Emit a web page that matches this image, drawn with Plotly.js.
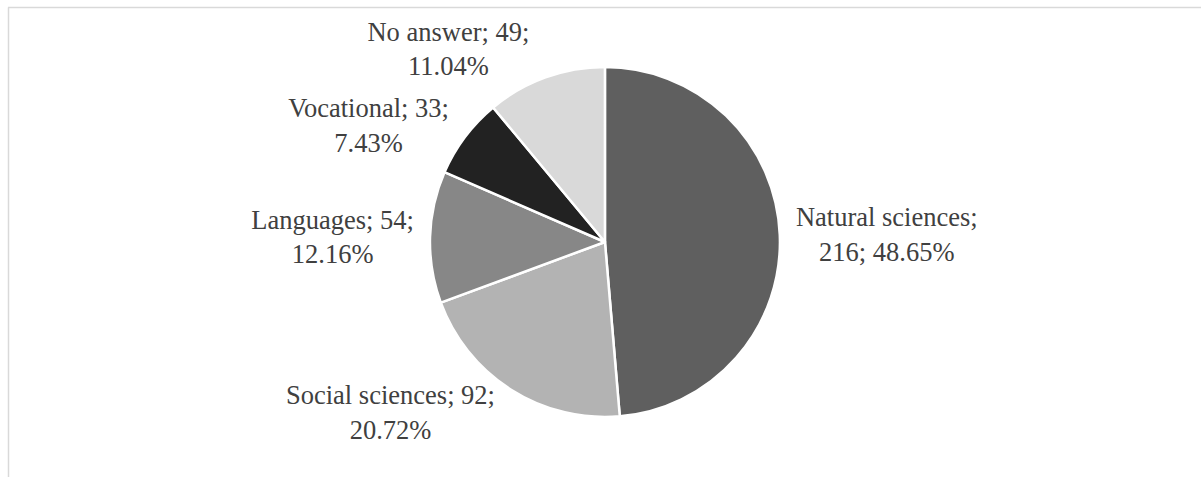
<!DOCTYPE html>
<html>
<head>
<meta charset="utf-8">
<script src="https://cdn.plot.ly/plotly-3.0.1.min.js"></script>
<style>html,body{margin:0;padding:0;background:#fff;}#chart{width:1201px;height:477px;}</style>
</head>
<body>
<div id="chart"></div>
<script>
const categories = ["Natural sciences", "Social sciences", "Languages", "Vocational", "No answer"];
const counts = [216, 92, 54, 33, 49];
const sliceColors = ["#5f5f5f", "#b3b3b3", "#878787", "#222222", "#d9d9d9"];

const labelTemplates = categories.map((c, i) =>
  i === 0 ? "%{label};<br>%{value}; %{percent:.2%}" : "%{label}; %{value};<br>%{percent:.2%}"
);

const serif = "Liberation Serif";

const trace = {
  type: "pie",
  labels: categories,
  values: counts,
  sort: false,
  direction: "clockwise",
  rotation: 0,
  marker: { colors: sliceColors, line: { color: "#ffffff", width: 2.5 } },
  textposition: "outside",
  texttemplate: labelTemplates,
  textfont: { family: serif, size: 26.5, color: "#404040" },
  outsidetextfont: { family: serif, size: 26.5, color: "#404040" },
  domain: { x: [0.358, 0.6494], y: [0.1258, 0.8595] },
  hoverinfo: "none",
  showlegend: false
};

const layout = {
  width: 1201,
  height: 477,
  margin: { l: 0, r: 0, t: 0, b: 0 },
  paper_bgcolor: "#ffffff",
  font: { family: serif, color: "#404040" },
  showlegend: false,
  shapes: [
    { type: "line", xref: "paper", yref: "paper", x0: 8/1201, x1: 1, y0: 1 - 7.5/477, y1: 1 - 7.5/477, line: { color: "#d9d9d9", width: 1.5 } },
    { type: "line", xref: "paper", yref: "paper", x0: 8.5/1201, x1: 8.5/1201, y0: 0, y1: 1 - 7.5/477, line: { color: "#d9d9d9", width: 1.5 } }
  ]
};

Plotly.newPlot("chart", [trace], layout, { displayModeBar: false, staticPlot: true });
</script>
</body>
</html>
